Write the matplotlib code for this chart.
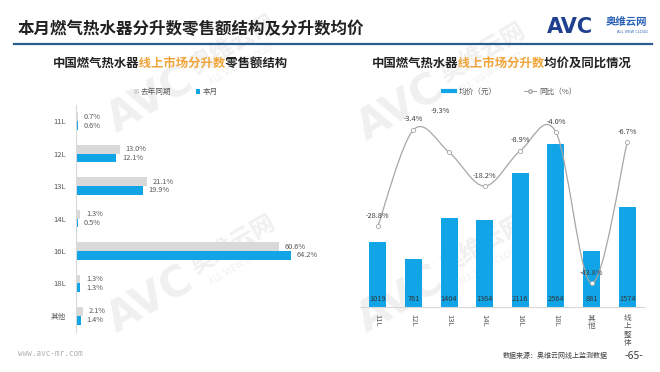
import matplotlib
matplotlib.use("Agg")
import matplotlib.pyplot as plt
from matplotlib.path import Path
from matplotlib.patches import PathPatch, Patch, Rectangle
from matplotlib.lines import Line2D
import numpy as np

plt.rcParams['font.family'] = ['Noto Sans CJK SC', 'DejaVu Sans']

# ---------------- data ----------------
left_categories = ["11L", "12L", "13L", "14L", "16L", "18L", "其他"]
share_last_year = [0.7, 13.0, 21.1, 1.3, 60.6, 1.3, 2.1]
share_this_month = [0.6, 12.1, 19.9, 0.5, 64.2, 1.3, 1.4]

right_categories = ["11L", "12L", "13L", "14L", "16L", "18L", "其他", "线上整体"]
avg_price = [1019, 761, 1404, 1364, 2116, 2564, 881, 1574]
yoy_pct = [-28.8, -3.4, -9.3, -18.2, -8.9, -4.0, -43.8, -6.7]

BLUE = "#11A5E8"
GRAY_BAR = "#D9D9D9"
TXT = "#595959"
ORANGE = "#F0A43A"
LINE_GRAY = "#A6A6A6"
WM = "#F0F0F0"

fig = plt.figure(figsize=(6.6, 3.72), dpi=100)
renderer = fig.canvas.get_renderer()


def text_width(s, **kw):
    t = fig.text(0, 0, s, **kw)
    w = t.get_window_extent(renderer=renderer).width
    t.remove()
    return w / fig.bbox.width


def multicolor_text(x_center, y, pieces, **kw):
    """Draw the full string once per colour, each copy clipped to its own piece."""
    full = "".join(s for s, _ in pieces)
    W = text_width(full, **kw)
    left = x_center - W / 2
    px = 1.0 / fig.bbox.width
    bounds = [0.0]
    consumed = ""
    for s, _ in pieces[:-1]:
        consumed += s
        suffix = full[len(consumed):]
        bounds.append(left + W - text_width(suffix, **kw) - 1.0 * px)
    bounds.append(1.0)
    for (s, c), xa, xb in zip(pieces, bounds[:-1], bounds[1:]):
        t = fig.text(x_center, y, full, color=c, va="center", ha="center", **kw)
        rect = Rectangle((xa, 0), xb - xa, 1, transform=fig.transFigure)
        t.set_clip_path(rect)


def watermark(cx, cy):
    ang = 30
    d = np.array([np.cos(np.radians(ang)), np.sin(np.radians(ang))])
    fig.text(cx / 660, 1 - cy / 372, "AVC", fontsize=30, fontweight="bold", color=WM,
             rotation=ang, ha="center", va="center", family="DejaVu Sans", zorder=-5,
             rotation_mode="anchor")
    p = np.array([cx, -cy]) + d * 95 + np.array([0, 8])
    fig.text(p[0] / 660, 1 + p[1] / 372, "奥维云网", fontsize=17, fontweight="bold", color=WM,
             rotation=ang, ha="center", va="center", zorder=-5, rotation_mode="anchor")
    q = np.array([cx, -cy]) + d * 95 + np.array([8, -12])
    fig.text(q[0] / 660, 1 + q[1] / 372, "ALL VIEW CLOUD", fontsize=6, color=WM,
             rotation=ang, ha="center", va="center", family="DejaVu Sans", zorder=-5,
             rotation_mode="anchor")


for wx, wy in [(150, 100), (150, 300), (400, 108), (400, 300)]:
    watermark(wx, wy)

# ---------------- header ----------------
fig.text(18 / 660, 1 - 29 / 372, "本月燃气热水器分升数零售额结构及分升数均价",
         fontsize=11.9, fontweight="bold", color="#222222", va="center", ha="left")
fig.add_artist(Line2D([14 / 660, 652 / 660], [1 - 44 / 372] * 2, color="#2B5C8F", lw=1.6))
fig.text(547 / 660, 1 - 27 / 372, "AVC", fontsize=15, fontweight="bold",
         color="#1F3F8F", va="center", ha="left", family="DejaVu Sans")
fig.text(606 / 660, 1 - 22 / 372, "奥维云网", fontsize=7.5, fontweight="bold",
         color="#2A63B8", va="center", ha="left")
fig.text(617 / 660, 1 - 32 / 372, "ALL VIEW CLOUD", fontsize=2.6,
         color="#2A63B8", va="center", ha="left", family="DejaVu Sans")

# ---------------- left chart ----------------
multicolor_text(170 / 660, 1 - 64 / 372,
                [("中国燃气热水器", "#222222"), ("线上市场分升数", ORANGE), ("零售额结构", "#222222")],
                fontsize=8.9, fontweight="bold")

axL = fig.add_axes([76 / 660, 1 - 332 / 372, (327 - 76) / 660, (332 - 105) / 372])
yl = np.arange(len(left_categories))
h = 0.27
off = 0.135
axL.barh(yl - off, share_last_year, height=h, color=GRAY_BAR)
axL.barh(yl + off, share_this_month, height=h, color=BLUE)
for i, (a, b) in enumerate(zip(share_last_year, share_this_month)):
    axL.annotate(f"{a:.1f}%", (a, i - off), xytext=(4, 0), textcoords="offset points",
                 va="center", ha="left", fontsize=5.3, color=TXT)
    axL.annotate(f"{b:.1f}%", (b, i + off), xytext=(4, 0), textcoords="offset points",
                 va="center", ha="left", fontsize=5.3, color=TXT)
axL.set_xlim(0, 75)
axL.set_ylim(len(left_categories) - 0.5, -0.5)
axL.set_yticks(yl)
axL.set_yticklabels(left_categories, fontsize=5.5, color=TXT)
axL.tick_params(axis="y", length=0, pad=7)
axL.set_xticks([])
for s in ["top", "right", "bottom"]:
    axL.spines[s].set_visible(False)
axL.spines["left"].set_color("#D9D9D9")
axL.spines["left"].set_linewidth(0.8)
axL.patch.set_alpha(0)

handlesL = [Patch(facecolor=GRAY_BAR, edgecolor="none"), Patch(facecolor=BLUE, edgecolor="none")]
fig.legend(handlesL, ["去年同期", "本月"], loc="center", bbox_to_anchor=(176 / 660, 1 - 92 / 372),
           ncol=2, frameon=False, fontsize=5.5, handlelength=0.6, handleheight=0.6,
           handletextpad=0.3, columnspacing=3.2, labelcolor=TXT)

# ---------------- right chart ----------------
multicolor_text(502 / 660, 1 - 64 / 372,
                [("中国燃气热水器", "#222222"), ("线上市场分升数", ORANGE), ("均价及同比情况", "#222222")],
                fontsize=8.9, fontweight="bold")

axR = fig.add_axes([360 / 660, 1 - 307 / 372, (645 - 360) / 660, (307 - 104) / 372])
xr = np.arange(len(right_categories))
axR.bar(xr, avg_price, width=0.48, color=BLUE, zorder=2)
for i, v in enumerate(avg_price):
    axR.annotate(f"{v}", (i, 0), xytext=(0, 5.5), textcoords="offset points",
                 ha="center", va="center", fontsize=5.3, color="#333333", zorder=3)
axR.set_xlim(-0.5, len(right_categories) - 0.5)
axR.set_ylim(0, 3200)
axR.set_yticks([])
axR.set_xticks(xr)
ticklabels = []
for c in right_categories:
    if any(ord(ch) > 127 for ch in c):
        ticklabels.append("\n".join(c))
    else:
        ticklabels.append(c)
axR.set_xticklabels(ticklabels, fontsize=5.5, color=TXT, linespacing=1.05)
for lab, c in zip(axR.get_xticklabels(), right_categories):
    if not any(ord(ch) > 127 for ch in c):
        lab.set_rotation(-90)
    lab.set_va("top")
axR.tick_params(axis="x", length=0, pad=5)
for s in ["top", "right", "left"]:
    axR.spines[s].set_visible(False)
axR.spines["bottom"].set_color("#D9D9D9")
axR.spines["bottom"].set_linewidth(0.8)
axR.patch.set_alpha(0)

ax2 = axR.twinx()
ax2.set_ylim(-50, 3.4)
ax2.set_yticks([])
for s in ["top", "right", "left", "bottom"]:
    ax2.spines[s].set_visible(False)
ax2.patch.set_alpha(0)

# smoothed line (Catmull-Rom style Bezier through the data points)
pts = np.column_stack([xr, yoy_pct]).astype(float)
ext = np.vstack([pts[0], pts, pts[-1]])
verts = [tuple(pts[0])]
codes = [Path.MOVETO]
for i in range(len(pts) - 1):
    p0, p1, p2, p3 = ext[i], ext[i + 1], ext[i + 2], ext[i + 3]
    c1 = p1 + (p2 - p0) / 6
    c2 = p2 - (p3 - p1) / 6
    verts += [tuple(c1), tuple(c2), tuple(p2)]
    codes += [Path.CURVE4] * 3
ax2.add_patch(PathPatch(Path(verts, codes), facecolor="none", edgecolor=LINE_GRAY, lw=0.9, zorder=4))
ax2.plot(xr, yoy_pct, linestyle="none", marker="o", markersize=3, markerfacecolor="white",
         markeredgecolor=LINE_GRAY, markeredgewidth=0.6, zorder=5)
label_offsets = {2: (-6, 30)}
for i, v in enumerate(yoy_pct):
    dx, dy = label_offsets.get(i, (0, 7.5))
    ax2.annotate(f"{v:.1f}%", (i, v), xytext=(dx, dy), textcoords="offset points",
                 ha="center", va="center", fontsize=5.3, color="#404040", zorder=6)

handlesR = [Line2D([], [], color=BLUE, lw=3),
            Line2D([], [], color=LINE_GRAY, lw=0.8, marker="o", markersize=2.5,
                   markerfacecolor="white", markeredgecolor=LINE_GRAY)]
fig.legend(handlesR, ["均价（元）", "同比（%）"], loc="center", bbox_to_anchor=(510 / 660, 1 - 92 / 372),
           ncol=2, frameon=False, fontsize=5.5, handlelength=1.6, handletextpad=0.5,
           columnspacing=3.5, labelcolor=TXT)

# ---------------- footer ----------------
fig.text(18 / 660, 1 - 353 / 372, "www.avc-mr.com", fontsize=5.5, color="#B0B0B0",
         va="center", ha="left", family="DejaVu Sans Mono")
fig.text(608 / 660, 1 - 356 / 372, "数据来源：奥维云网线上监测数据", fontsize=5.0, color="#404040",
         va="center", ha="right")
fig.text(625 / 660, 1 - 356 / 372, "-65-", fontsize=7.5, color="#404040", va="center", ha="left")

fig.savefig("out.png", dpi=100)
